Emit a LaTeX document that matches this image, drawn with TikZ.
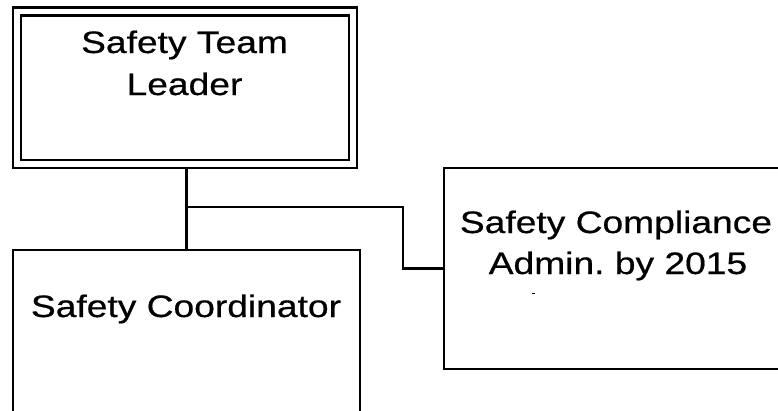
\documentclass[tikz,border=0pt]{standalone}
\usepackage{fontspec}
\newfontfamily\boxfont[FakeStretch=1.2,FakeBold=0.6]{Liberation Sans}
\begin{document}
\begin{tikzpicture}[x=1pt,y=-1pt,
  line width=2.3pt,
  box/.style={draw=black, rectangle, inner sep=0pt, outer sep=0pt, fill=white},
  leaderbox/.style={box, double, double distance=5.7pt, outer sep=5.15pt},
  label/.style={font=\boxfont\fontsize{31pt}{42pt}\selectfont, anchor=base, inner sep=0pt, text=black},
  wire/.style={draw=black, line width=2.3pt}
]
\useasboundingbox (0,0) rectangle (778,410);
\clip (0,0) rectangle (778,410);
\fill[white] (0,0) rectangle (778,410);

% boxes
\node[leaderbox, minimum width=336.25pt, minimum height=152.75pt] (leader) at (184.9,87.9) {};
\node[box, minimum width=347pt, minimum height=170pt] (coord) at (186.5,335) {};
\node[box, minimum width=344pt, minimum height=201pt] (comp) at (616,268.5) {};

% box texts
\node[label] (leaderA) at (184.5,53) {Safety Team};
\node[label] (leaderB) at (184.5,95) {Leader};
\node[label] (coordA) at (186,317) {Safety Coordinator};
\node[label] (compA) at (616,233) {Safety Compliance};
\node[label] (compB) at (618,274) {Admin.\ by 2015};

% reporting lines
\coordinate (junction) at (186.5,207);
\coordinate (elbow) at (403,207);
\draw[wire] (leader.south -| coord.north) -- (coord.north);
\draw[wire] (junction) -- (elbow) |- (comp.west);

% small stray mark below the second line
\draw[line width=1pt] (531.5,293) -- (534.5,293);
\end{tikzpicture}
\end{document}
